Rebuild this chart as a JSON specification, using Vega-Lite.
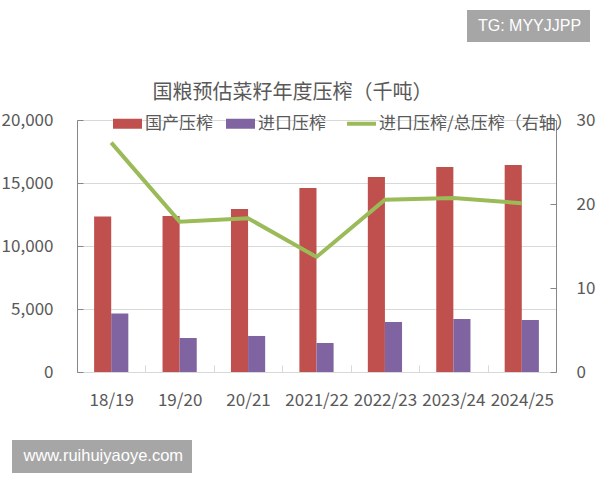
{
  "$schema": "https://vega.github.io/schema/vega-lite/v6.json",
  "width": 479,
  "height": 252,
  "autosize": {"type": "none"},
  "padding": {"left": 77, "top": 120, "right": 44, "bottom": 108},
  "background": "white",
  "title": {
    "text": "国粮预估菜籽年度压榨（千吨）",
    "font": "Noto Sans CJK SC",
    "fontSize": 20,
    "fontWeight": "normal",
    "color": "#595959",
    "anchor": "middle",
    "dx": -24,
    "dy": 93,
    "offset": 0
  },
  "datasets": {
    "press": [
      {"year": "18/19", "series": "国产压榨", "value": 12350},
      {"year": "18/19", "series": "进口压榨", "value": 4650},
      {"year": "19/20", "series": "国产压榨", "value": 12380},
      {"year": "19/20", "series": "进口压榨", "value": 2700},
      {"year": "20/21", "series": "国产压榨", "value": 12940},
      {"year": "20/21", "series": "进口压榨", "value": 2860},
      {"year": "2021/22", "series": "国产压榨", "value": 14600},
      {"year": "2021/22", "series": "进口压榨", "value": 2300},
      {"year": "2022/23", "series": "国产压榨", "value": 15480},
      {"year": "2022/23", "series": "进口压榨", "value": 3970},
      {"year": "2023/24", "series": "国产压榨", "value": 16270},
      {"year": "2023/24", "series": "进口压榨", "value": 4200},
      {"year": "2024/25", "series": "国产压榨", "value": 16430},
      {"year": "2024/25", "series": "进口压榨", "value": 4130}
    ],
    "ratio": [
      {"year": "18/19", "series": "进口压榨/总压榨（右轴）", "ratio": 27.3},
      {"year": "19/20", "series": "进口压榨/总压榨（右轴）", "ratio": 17.9},
      {"year": "20/21", "series": "进口压榨/总压榨（右轴）", "ratio": 18.3},
      {"year": "2021/22", "series": "进口压榨/总压榨（右轴）", "ratio": 13.7},
      {"year": "2022/23", "series": "进口压榨/总压榨（右轴）", "ratio": 20.5},
      {"year": "2023/24", "series": "进口压榨/总压榨（右轴）", "ratio": 20.7},
      {"year": "2024/25", "series": "进口压榨/总压榨（右轴）", "ratio": 20.1}
    ],
    "wm1": [{"tag": "TG: MYYJJPP"}],
    "wm2": [{"site": "www.ruihuiyaoye.com"}]
  },
  "layer": [
    {
      "data": {"name": "press"},
      "mark": {"type": "bar"},
      "encoding": {
        "x": {
          "field": "year",
          "type": "nominal",
          "sort": ["18/19", "19/20", "20/21", "2021/22", "2022/23", "2023/24", "2024/25"],
          "scale": {"paddingInner": 0, "paddingOuter": 0},
          "axis": {
            "title": null,
            "labelAngle": 0,
            "labelFont": "Noto Sans CJK SC",
            "labelFontSize": 17,
            "labelColor": "#595959",
            "labelPadding": 27,
            "domainColor": "#d9d9d9",
            "tickColor": "#d9d9d9",
            "tickBand": "extent",
            "tickSize": -7,
            "grid": false
          }
        },
        "xOffset": {
          "field": "series",
          "type": "nominal",
          "sort": ["国产压榨", "进口压榨"],
          "scale": {"paddingInner": 0, "paddingOuter": 1.14}
        },
        "y": {
          "field": "value",
          "type": "quantitative",
          "scale": {"domain": [0, 20000], "nice": false},
          "axis": {
            "title": null,
            "values": [0, 5000, 10000, 15000, 20000],
            "format": ",.0f",
            "labelFont": "Noto Sans CJK SC",
            "labelFontSize": 17,
            "labelColor": "#595959",
            "labelPadding": 30,
            "domainColor": "#868686",
            "tickColor": "#868686",
            "tickSize": -6,
            "grid": true,
            "gridColor": "#d9d9d9"
          }
        },
        "color": {
          "field": "series",
          "type": "nominal",
          "scale": {
            "domain": ["国产压榨", "进口压榨", "进口压榨/总压榨（右轴）"],
            "range": ["#c0504d", "#8064a2", "#9bbb59"]
          },
          "legend": {
            "orient": "none",
            "legendX": 42,
            "legendY": -5,
            "direction": "horizontal",
            "title": null,
            "padding": 0,
            "labelFont": "Noto Sans CJK SC",
            "labelFontSize": 17,
            "labelColor": "#595959",
            "labelOffset": 9,
            "labelLimit": 400,
            "columnPadding": 13,
            "symbolSize": 841,
            "encode": {
              "symbols": {
                "update": {
                  "shape": {"signal": "datum.value === '进口压榨/总压榨（右轴）' ? 'stroke' : 'M-1,-0.345H1V0.345H-1Z'"},
                  "strokeWidth": {"signal": "datum.value === '进口压榨/总压榨（右轴）' ? 4 : 0"},
                  "fill": {"signal": "scale('color', datum.value)"},
                  "stroke": {"signal": "scale('color', datum.value)"},
                  "opacity": {"value": 1},
                  "fillOpacity": {"value": 1}
                }
              }
            }
          }
        }
      }
    },
    {
      "data": {"name": "ratio"},
      "mark": {"type": "line", "strokeWidth": 4},
      "encoding": {
        "x": {
          "field": "year",
          "type": "nominal",
          "sort": ["18/19", "19/20", "20/21", "2021/22", "2022/23", "2023/24", "2024/25"]
        },
        "y": {
          "field": "ratio",
          "type": "quantitative",
          "scale": {"domain": [0, 30], "nice": false},
          "axis": {
            "orient": "right",
            "title": null,
            "values": [0, 10, 20, 30],
            "labelFont": "Noto Sans CJK SC",
            "labelFontSize": 17,
            "labelColor": "#595959",
            "labelPadding": 26,
            "domainColor": "#868686",
            "tickColor": "#868686",
            "tickSize": -6,
            "grid": false
          }
        },
        "color": {"field": "series", "type": "nominal"}
      }
    },
    {
      "data": {"name": "wm1"},
      "mark": {"type": "point", "opacity": 0},
      "encoding": {
        "shape": {
          "field": "tag",
          "type": "nominal",
          "legend": {
            "orient": "none",
            "legendX": 390,
            "legendY": -110,
            "title": null,
            "fillColor": "#a6a6a6",
            "padding": 8,
            "labelColor": "#ffffff",
            "labelFont": "Liberation Sans",
            "labelFontSize": 16,
            "labelOffset": -13,
            "symbolSize": 0,
            "symbolOpacity": 0,
            "symbolStrokeWidth": 0
          }
        }
      }
    },
    {
      "data": {"name": "wm2"},
      "mark": {"type": "point", "opacity": 0},
      "encoding": {
        "shape": {
          "field": "site",
          "type": "nominal",
          "legend": {
            "orient": "none",
            "legendX": -65,
            "legendY": 320,
            "title": null,
            "fillColor": "#a6a6a6",
            "padding": 8,
            "labelColor": "#ffffff",
            "labelFont": "Liberation Sans",
            "labelFontSize": 16.5,
            "labelOffset": -13,
            "symbolSize": 0,
            "symbolOpacity": 0,
            "symbolStrokeWidth": 0
          }
        }
      }
    }
  ],
  "resolve": {
    "scale": {"y": "independent", "shape": "independent"},
    "legend": {"shape": "independent"}
  },
  "config": {
    "view": {"stroke": null}
  }
}
